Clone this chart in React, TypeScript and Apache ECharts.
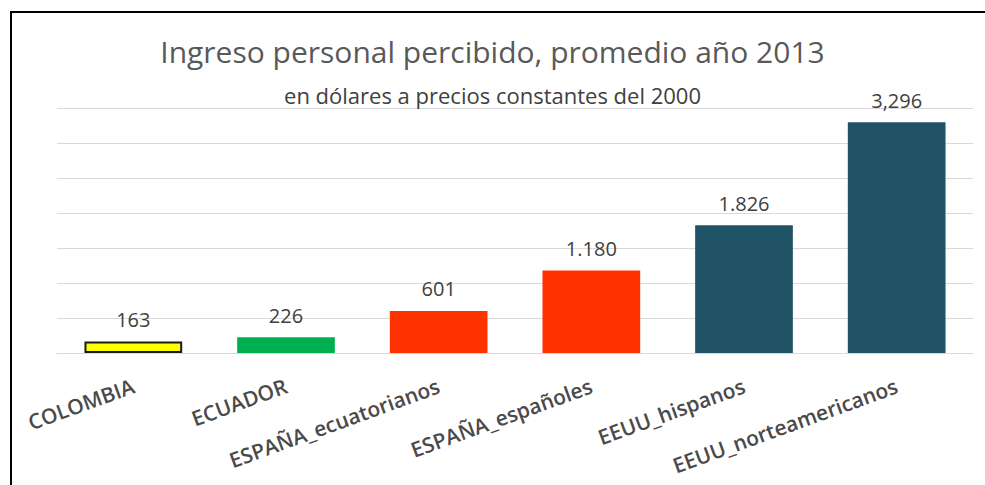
import React, { useEffect, useRef } from "react";
import * as echarts from "echarts";

const categories = [
  "COLOMBIA",
  "ECUADOR",
  "ESPAÑA_ecuatorianos",
  "ESPAÑA_españoles",
  "EEUU_hispanos",
  "EEUU_norteamericanos",
];
const values = [163, 226, 601, 1180, 1826, 3296];
const valueLabels = ["163", "226", "601", "1.180", "1.826", "3,296"];
const barColors = ["#FFFF00", "#00B050", "#FF3300", "#FF3300", "#1F5365", "#1F5365"];
const barBorders = ["#1a1a1a", null, null, null, null, null];

const titleText = "Ingreso personal percibido, promedio año 2013";
const subtitleText = "en dólares a precios constantes del 2000";

export default function App() {
  const ref = useRef<HTMLDivElement>(null);
  useEffect(() => {
    if (!ref.current) return;
    const chart = echarts.init(ref.current, undefined, { renderer: "svg" });
    chart.setOption({
      animation: false,
      backgroundColor: "#ffffff",
      textStyle: { fontFamily: "Open Sans" },
      title: [
        {
          text: titleText,
          left: "center",
          top: 31,
          textStyle: { fontSize: 30, fontWeight: "normal", color: "#595959", fontFamily: "Open Sans" },
        },
        {
          text: subtitleText,
          left: "center",
          top: 79,
          textStyle: { fontSize: 22, fontWeight: "normal", color: "#404040", fontFamily: "Open Sans" },
        },
      ],
      graphic: [
        {
          type: "rect",
          shape: { x: 11, y: 12, width: 990, height: 500 },
          style: { fill: "none", stroke: "#000000", lineWidth: 2 },
          silent: true,
        },
      ],
      grid: { left: 57, right: 12, top: 108, bottom: 132, containLabel: false },
      xAxis: {
        type: "category",
        data: categories,
        axisLine: { show: true, lineStyle: { color: "#d9d9d9", width: 1 } },
        axisTick: { show: false },
        axisLabel: {
          rotate: 20,
          fontSize: 21,
          fontWeight: 600,
          color: "#4a4a4a",
          margin: 32,
          fontFamily: "Open Sans",
          interval: 0,
        },
      },
      yAxis: {
        type: "value",
        min: 0,
        max: 3500,
        interval: 500,
        axisLabel: { show: false },
        axisLine: { show: false },
        axisTick: { show: false },
        splitLine: { lineStyle: { color: "#d9d9d9", width: 1 } },
      },
      series: [
        {
          type: "bar",
          barWidth: "64%",
          data: values.map((v, i) => ({
            value: v,
            itemStyle: {
              color: barColors[i],
              borderColor: barBorders[i] || barColors[i],
              borderWidth: barBorders[i] ? 2 : 0,
            },
          })),
          label: {
            show: true,
            position: "top",
            distance: 12,
            fontSize: 20,
            color: "#404040",
            fontFamily: "Open Sans",
            formatter: (p: any) => valueLabels[p.dataIndex],
          },
        },
      ],
    });
    return () => chart.dispose();
  }, []);
  return (
    <div
      ref={ref}
      style={{ position: "fixed", left: 0, top: 0, width: 985, height: 485 }}
    />
  );
}
